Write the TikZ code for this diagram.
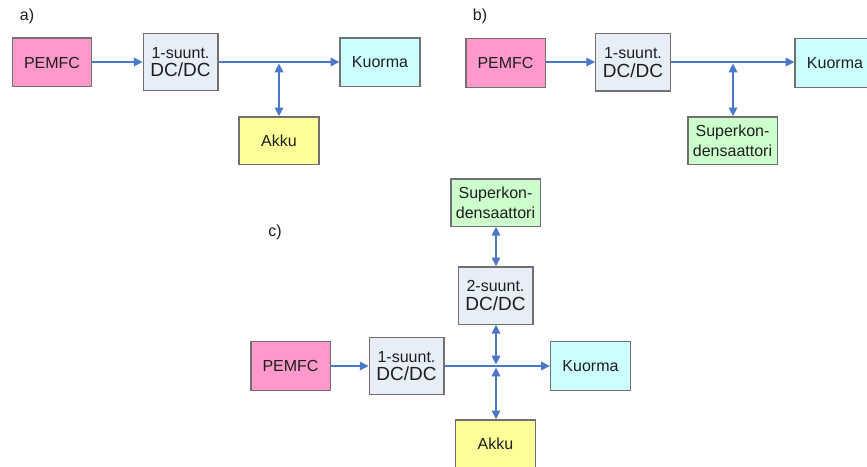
\documentclass[tikz,border=0pt]{standalone}
\usepackage{fontspec}
\setmainfont{Liberation Sans}
\usetikzlibrary{arrows.meta}
\definecolor{pemfccol}{RGB}{255,153,204}
\definecolor{dccol}{RGB}{232,238,248}
\definecolor{loadcol}{RGB}{204,255,255}
\definecolor{battcol}{RGB}{255,255,153}
\definecolor{capcol}{RGB}{204,255,204}
\definecolor{edgecol}{RGB}{112,112,112}
\definecolor{wirecol}{RGB}{74,120,200}
\definecolor{inkcol}{RGB}{30,30,30}
\tikzset{
  blk/.style={draw=edgecol, line width=1pt, inner sep=0pt, align=center,
    text=inkcol, font=\fontsize{12}{15}\selectfont},
  srcbox/.style={blk, fill=pemfccol, minimum width=59.5pt, minimum height=36.5pt},
  convbox/.style={blk, fill=dccol, minimum width=56pt, minimum height=43pt},
  loadbox/.style={blk, fill=loadcol, minimum width=60pt, minimum height=36.5pt},
  battbox/.style={blk, fill=battcol, minimum width=60pt, minimum height=35.5pt},
  capbox/.style={blk, fill=capcol, minimum width=67pt, minimum height=35.5pt},
  wire/.style={draw=wirecol, line width=0.9pt},
  tip/.style={-{Triangle[length=6.5pt,width=6.5pt]}},
  bitip/.style={{Triangle[length=6.5pt,width=6.5pt]}-{Triangle[length=6.5pt,width=6.5pt]}},
  tag/.style={font=\fontsize{12}{14}\selectfont, text=inkcol, inner sep=0pt}
}
\newcommand{\conv}[1]{#1\\[-1pt]{\fontsize{14.25}{16}\selectfont DC/DC}}
\begin{document}
\begin{tikzpicture}[x=0.75pt, y=-0.75pt]
  \clip (0,0) rectangle (867,467);
  \fill[white] (0,0) rectangle (867,467);

  % ---- a) battery on the common bus
  \node[tag] (la) at (27,16) {a)};
  \node[srcbox]  (pemfcA) at (52,62.5)   {PEMFC};
  \node[convbox] (dcA)    at (180.5,62)  {\conv{1-suunt.}};
  \node[loadbox] (loadA)  at (380,62.5)  {Kuorma};
  \node[battbox] (battA)  at (279,140.5) {Akku};
  \coordinate (jA) at (279,62);
  \draw[wire,tip] (pemfcA.east |- jA) -- (dcA.west |- jA);
  \draw[wire,tip] (dcA.east |- jA) -- (loadA.west |- jA);
  \draw[wire,bitip] ([yshift=-1.2pt]jA) -- (battA.north);

  % ---- b) supercapacitor on the common bus
  \node[tag] (lb) at (480,16) {b)};
  \node[srcbox]  (pemfcB) at (505.5,63)    {PEMFC};
  \node[convbox] (dcB)    at (633,62.5)    {\conv{1-suunt.}};
  \node[loadbox] (loadB)  at (835,63)      {Kuorma};
  \node[capbox]  (capB)   at (732.5,140.5) {Superkon-\\densaattori};
  \coordinate (jB) at (733,62);
  \draw[wire,tip] (pemfcB.east |- jB) -- (dcB.west |- jB);
  \draw[wire,tip] (dcB.east |- jB) -- (loadB.west |- jB);
  \draw[wire,bitip] ([yshift=-1.2pt]jB) -- (capB.north -| jB);

  % ---- c) battery plus supercapacitor behind a bidirectional converter
  \node[tag] (lc) at (275,232) {c)};
  \node[capbox]  (capC)   at (495.5,202.5) {Superkon-\\densaattori};
  \node[convbox] (dc2C)   at (495.5,295.5) {\conv{2-suunt.}};
  \node[srcbox]  (pemfcC) at (290.5,366)   {PEMFC};
  \node[convbox] (dc1C)   at (406.5,366)   {\conv{1-suunt.}};
  \node[loadbox] (loadC)  at (590.5,366)   {Kuorma};
  \node[battbox] (battC)  at (495.5,443.5) {Akku};
  \coordinate (jC) at (496,366);
  \draw[wire,tip] (pemfcC.east) -- (dc1C.west);
  \draw[wire,tip] (dc1C.east |- jC) -- (loadC.west |- jC);
  \draw[wire,bitip] (capC.south -| jC) -- (dc2C.north -| jC);
  \draw[wire,bitip] (dc2C.south -| jC) -- ([yshift=1.2pt]jC);
  \draw[wire,bitip] ([yshift=-1.2pt]jC) -- (battC.north -| jC);
\end{tikzpicture}
\end{document}
